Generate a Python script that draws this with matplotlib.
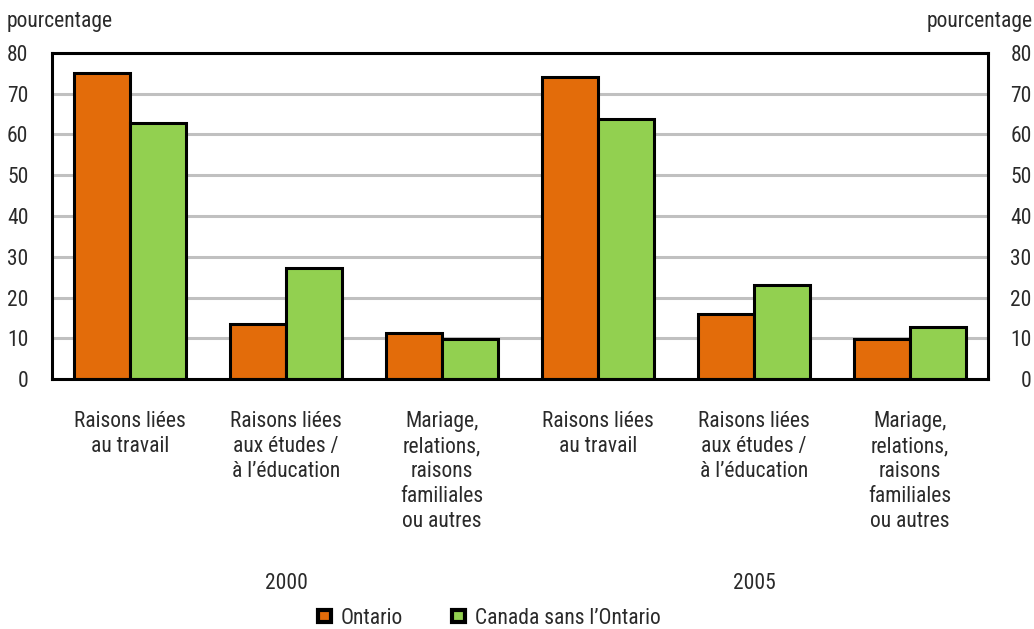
import numpy as np
import matplotlib.pyplot as plt
from matplotlib.patches import Patch
import matplotlib.transforms as mtransforms

plt.rcParams['font.family'] = ['Roboto Condensed', 'DejaVu Sans']
plt.rcParams['text.color'] = '#2a2a2a'
plt.rcParams['xtick.color'] = '#2a2a2a'
plt.rcParams['ytick.color'] = '#2a2a2a'

# Data
categories = ['Raisons liées\nau travail',
              'Raisons liées\naux études /\nà l\u2019éducation',
              'Mariage,\nrelations,\nraisons\nfamiliales\nou autres']
years = ['2000', '2005']
ontario = [75.0, 13.6, 11.3, 74.0, 16.0, 9.8]
canada_sans_ontario = [62.9, 27.3, 9.9, 63.9, 23.1, 12.9]
series_names = ['Ontario', 'Canada sans l\u2019Ontario']

c_ont = '#E36C0A'
c_can = '#92D050'
fs = 15.5

fig = plt.figure(figsize=(10.34, 6.29), dpi=100)
ax = fig.add_axes([0.0503, 0.397, 0.9052, 0.519])

x = np.arange(len(ontario))
w = 0.36
ax.bar(x - w/2, ontario, w, color=c_ont, edgecolor='black', linewidth=2.2, zorder=3)
ax.bar(x + w/2, canada_sans_ontario, w, color=c_can, edgecolor='black', linewidth=2.2, zorder=3)

ax.set_xlim(-0.5, 5.5)
ax.set_ylim(0, 80)
ax.set_yticks(np.arange(0, 81, 10))
ax.grid(axis='y', color='#c0c0c0', linewidth=2.2, zorder=0)
ax.grid(axis='x', visible=False)
for s in ax.spines.values():
    s.set_linewidth(2.2)
    s.set_color('black')
    s.set_zorder(4)

ax.tick_params(axis='y', length=0, labelsize=fs, pad=17)
ax.set_xticks(x)
ax.set_xticklabels(categories * 2, fontsize=fs, linespacing=1.25)
ax.tick_params(axis='x', length=0, pad=23)

# right-hand axis
ax2 = ax.twinx()
ax2.set_ylim(0, 80)
ax2.set_yticks(np.arange(0, 81, 10))
ax2.tick_params(axis='y', length=0, labelsize=fs, pad=31.5)
for lab in ax2.get_yticklabels():
    lab.set_horizontalalignment('right')
ax2.spines[:].set_visible(False)

fig.text(0.006, 0.966, 'pourcentage', fontsize=fs, ha='left', va='center')
fig.text(0.999, 0.966, 'pourcentage', fontsize=fs, ha='right', va='center')

trans = mtransforms.blended_transform_factory(ax.transData, ax.transAxes)
ax.text(1, -0.627, years[0], transform=trans, ha='center', va='center', fontsize=fs)
ax.text(4, -0.627, years[1], transform=trans, ha='center', va='center', fontsize=fs)

handles = [Patch(facecolor=c_ont, edgecolor='black', linewidth=3),
           Patch(facecolor=c_can, edgecolor='black', linewidth=3)]
fig.legend(handles, series_names, loc='center', bbox_to_anchor=(0.473, 0.017),
           ncol=2, frameon=False, fontsize=fs, handlelength=0.6, handleheight=0.5,
           handletextpad=0.45, columnspacing=2.3)

fig.savefig('out.png', dpi=100)
